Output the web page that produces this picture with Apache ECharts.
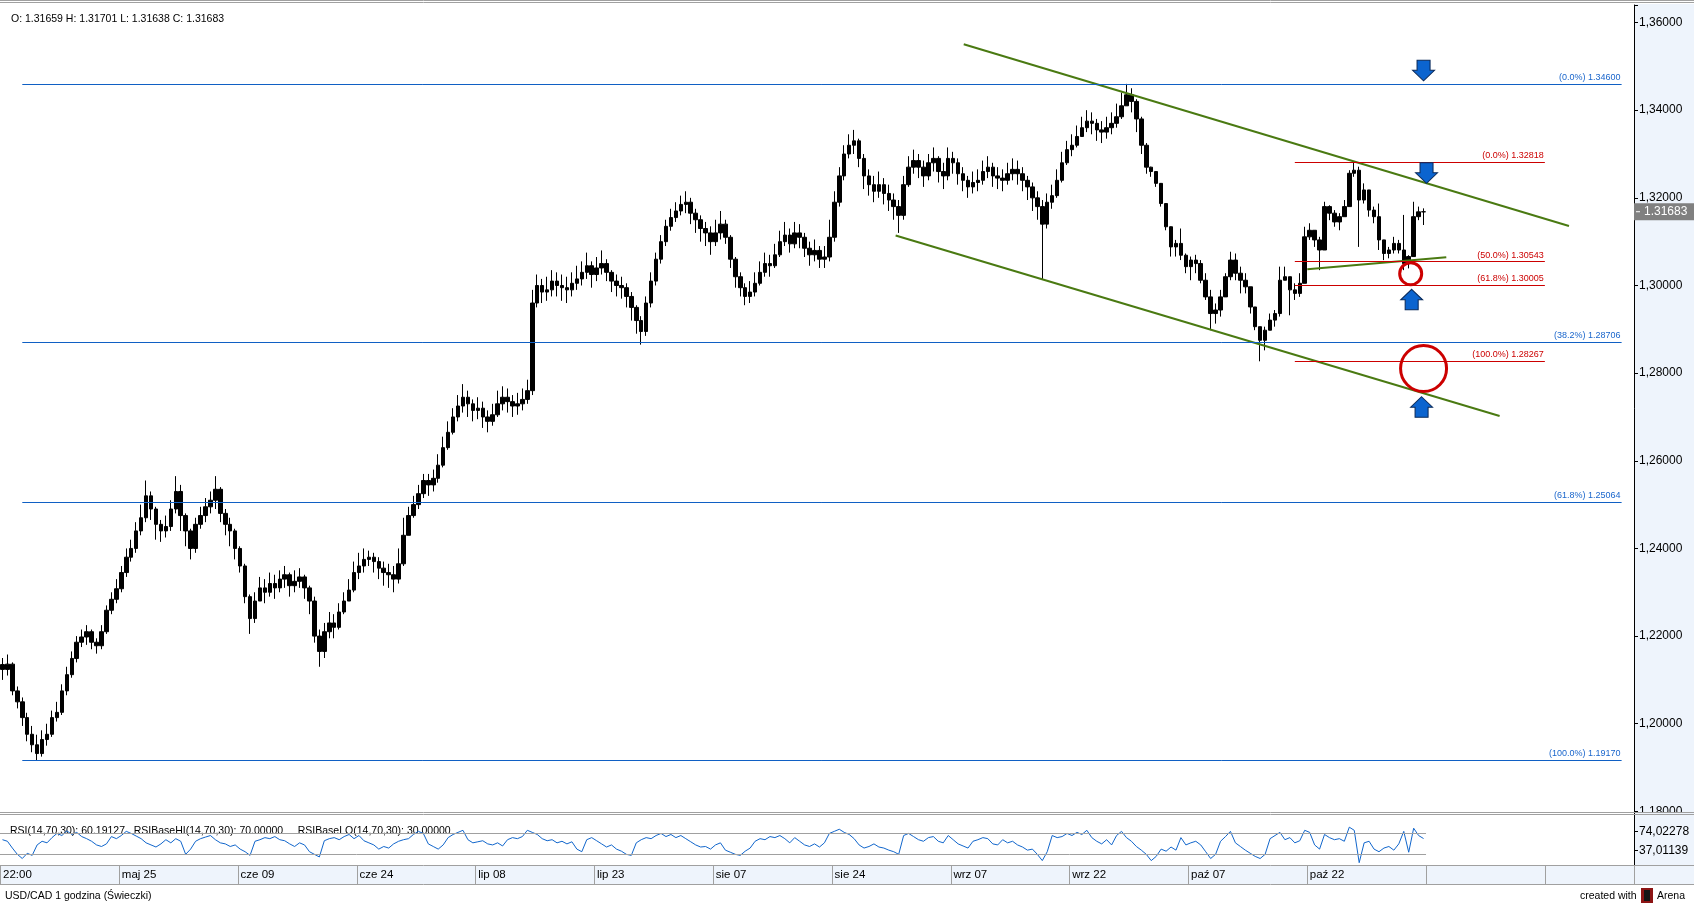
<!DOCTYPE html>
<html>
<head>
<meta charset="utf-8">
<script src="https://cdn.jsdelivr.net/npm/echarts@6/dist/echarts.min.js"></script>
<style>
html,body{margin:0;padding:0;background:#ffffff;}
#c{width:1694px;height:903px;}
</style>
</head>
<body>
<div id="c"></div>
<script>
// ---------------- DATA ----------------
const dateLabels = ['22:00','maj 25','cze 09','cze 24','lip 08','lip 23','sie 07','sie 24','wrz 07','wrz 22','paź 07','paź 22'];
const firstOpen = 1.2135;
const closes = [
1.2124,1.2136,1.2075,1.2050,1.2014,1.1976,1.1952,1.1932,1.1964,1.1976,1.2014,1.2026,1.2075,1.2112,1.2149,1.2186,1.2198,1.2210,1.2186,1.2178,1.2210,1.2259,1.2284,1.2308,
1.2345,1.2380,1.2400,1.2440,1.2470,1.2520,1.2490,1.2455,1.2440,1.2450,1.2490,1.2530,1.2475,1.2440,1.2400,1.2455,1.2475,1.2495,1.2510,1.2535,1.2480,1.2455,1.2440,1.2400,
1.2360,1.2290,1.2240,1.2280,1.2310,1.2300,1.2320,1.2310,1.2330,1.2340,1.2315,1.2325,1.2335,1.2310,1.2280,1.2200,1.2165,1.2210,1.2230,1.2220,1.2255,1.2280,1.2305,1.2345,
1.2360,1.2375,1.2380,1.2370,1.2355,1.2345,1.2340,1.2330,1.2365,1.2430,1.2475,1.2500,1.2525,1.2555,1.2545,1.2560,1.2590,1.2630,1.2665,1.2700,1.2725,1.2745,1.2730,1.2715,
1.2720,1.2700,1.2690,1.2705,1.2730,1.2745,1.2735,1.2725,1.2730,1.2740,1.2760,1.2960,1.3000,1.2985,1.2990,1.3010,1.3000,1.2995,1.2990,1.3005,1.3015,1.3030,1.3045,1.3025,
1.3040,1.3050,1.3030,1.3010,1.3000,1.2995,1.2975,1.2950,1.2920,1.2895,1.2960,1.3010,1.3060,1.3100,1.3135,1.3155,1.3170,1.3185,1.3190,1.3165,1.3150,1.3130,1.3120,1.3100,
1.3120,1.3140,1.3110,1.3060,1.3020,1.2995,1.2975,1.2985,1.3005,1.3030,1.3050,1.3045,1.3070,1.3100,1.3115,1.3095,1.3120,1.3110,1.3085,1.3070,1.3080,1.3060,1.3065,1.3110,
1.3190,1.3250,1.3300,1.3320,1.3330,1.3290,1.3250,1.3230,1.3215,1.3230,1.3210,1.3195,1.3180,1.3160,1.3230,1.3270,1.3285,1.3270,1.3250,1.3280,1.3290,1.3260,1.3250,1.3290,
1.3280,1.3255,1.3240,1.3225,1.3235,1.3240,1.3260,1.3270,1.3250,1.3245,1.3240,1.3255,1.3265,1.3255,1.3240,1.3225,1.3200,1.3180,1.3140,1.3190,1.3205,1.3240,1.3280,1.3310,
1.3320,1.3340,1.3360,1.3375,1.3370,1.3355,1.3350,1.3360,1.3370,1.3385,1.3410,1.3435,1.3420,1.3380,1.3320,1.3270,1.3260,1.3233,1.3187,1.3134,1.3088,1.3096,1.3069,1.3043,
1.3058,1.3050,1.3012,1.2974,1.2936,1.2944,1.2974,1.3020,1.3058,1.3028,1.3012,1.2997,1.2951,1.2906,1.2875,1.2898,1.2921,1.2936,1.3012,1.3020,1.2990,1.2982,1.3005,1.3111,
1.3126,1.3104,1.3081,1.3180,1.3165,1.3145,1.3157,1.3180,1.3256,1.3263,1.3195,1.3218,1.3172,1.3157,1.3104,1.3073,1.3081,1.3096,1.3081,1.3050,1.3066,1.3157,1.3168,1.31683
];
const highs = [
1.2150,1.2158,1.2140,1.2085,1.2060,1.2025,1.1995,1.1975,1.1985,1.2000,1.2030,1.2050,1.2090,1.2130,1.2165,1.2200,1.2215,1.2225,1.2215,1.2195,1.2225,1.2270,1.2300,1.2330,
1.2360,1.2400,1.2420,1.2460,1.2500,1.2555,1.2530,1.2495,1.2465,1.2475,1.2510,1.2565,1.2545,1.2480,1.2445,1.2470,1.2495,1.2515,1.2530,1.2565,1.2540,1.2490,1.2470,1.2445,
1.2405,1.2365,1.2295,1.2300,1.2335,1.2330,1.2345,1.2340,1.2350,1.2360,1.2345,1.2350,1.2355,1.2340,1.2315,1.2290,1.2215,1.2230,1.2255,1.2250,1.2275,1.2300,1.2330,1.2370,
1.2390,1.2400,1.2395,1.2390,1.2380,1.2370,1.2365,1.2360,1.2400,1.2470,1.2495,1.2520,1.2545,1.2570,1.2570,1.2580,1.2615,1.2655,1.2690,1.2720,1.2750,1.2775,1.2760,1.2740,
1.2745,1.2735,1.2715,1.2730,1.2760,1.2770,1.2765,1.2750,1.2755,1.2765,1.2785,1.2990,1.3025,1.3015,1.3020,1.3035,1.3030,1.3025,1.3020,1.3030,1.3045,1.3055,1.3075,1.3055,
1.3065,1.3080,1.3060,1.3035,1.3025,1.3020,1.3005,1.2985,1.2955,1.2930,1.2975,1.3030,1.3075,1.3115,1.3150,1.3175,1.3190,1.3205,1.3215,1.3200,1.3175,1.3160,1.3145,1.3135,
1.3150,1.3170,1.3150,1.3115,1.3065,1.3030,1.3005,1.3010,1.3030,1.3055,1.3075,1.3070,1.3095,1.3125,1.3145,1.3130,1.3145,1.3140,1.3120,1.3100,1.3105,1.3090,1.3090,1.3150,
1.3215,1.3270,1.3320,1.3345,1.3355,1.3335,1.3300,1.3265,1.3250,1.3260,1.3245,1.3230,1.3210,1.3195,1.3250,1.3295,1.3310,1.3300,1.3285,1.3300,1.3315,1.3295,1.3280,1.3315,
1.3305,1.3290,1.3270,1.3250,1.3260,1.3265,1.3285,1.3295,1.3280,1.3270,1.3265,1.3280,1.3290,1.3285,1.3270,1.3250,1.3235,1.3215,1.3195,1.3210,1.3230,1.3265,1.3305,1.3330,
1.3345,1.3365,1.3385,1.3400,1.3395,1.3380,1.3375,1.3385,1.3395,1.3415,1.3440,1.3460,1.3450,1.3425,1.3385,1.3325,1.3271,1.3256,1.3218,1.3180,1.3126,1.3104,1.3130,1.3073,
1.3066,1.3070,1.3058,1.3028,1.2990,1.2959,1.2990,1.3028,1.3077,1.3073,1.3043,1.3028,1.2997,1.2951,1.2906,1.2906,1.2936,1.2944,1.3043,1.3043,1.3020,1.3005,1.3028,1.3134,
1.3142,1.3126,1.3111,1.3191,1.3183,1.3172,1.3165,1.3195,1.3263,1.3282,1.3271,1.3233,1.3210,1.3180,1.3187,1.3096,1.3088,1.3111,1.3104,1.3161,1.3069,1.3191,1.3180,1.3176
];
const lows = [
1.2100,1.2110,1.2065,1.2035,1.1995,1.1960,1.1935,1.1917,1.1925,1.1950,1.1970,1.2005,1.2020,1.2065,1.2105,1.2140,1.2175,1.2180,1.2170,1.2160,1.2170,1.2205,1.2250,1.2275,
1.2300,1.2335,1.2370,1.2390,1.2430,1.2460,1.2465,1.2420,1.2415,1.2425,1.2440,1.2480,1.2440,1.2405,1.2375,1.2390,1.2445,1.2460,1.2480,1.2490,1.2460,1.2430,1.2405,1.2375,
1.2345,1.2275,1.2205,1.2230,1.2280,1.2275,1.2290,1.2285,1.2300,1.2310,1.2290,1.2300,1.2310,1.2285,1.2250,1.2185,1.2130,1.2150,1.2195,1.2195,1.2215,1.2250,1.2280,1.2300,
1.2330,1.2345,1.2360,1.2345,1.2330,1.2315,1.2310,1.2300,1.2320,1.2360,1.2430,1.2470,1.2490,1.2515,1.2520,1.2530,1.2550,1.2585,1.2625,1.2660,1.2690,1.2710,1.2700,1.2690,
1.2695,1.2675,1.2665,1.2680,1.2700,1.2715,1.2710,1.2700,1.2705,1.2715,1.2730,1.2750,1.2950,1.2960,1.2965,1.2975,1.2975,1.2965,1.2960,1.2975,1.2990,1.3000,1.3015,1.2995,
1.3010,1.3025,1.3010,1.2985,1.2975,1.2970,1.2950,1.2920,1.2890,1.2865,1.2885,1.2950,1.3000,1.3050,1.3090,1.3125,1.3145,1.3160,1.3165,1.3140,1.3120,1.3100,1.3090,1.3070,
1.3090,1.3105,1.3095,1.3040,1.2995,1.2975,1.2955,1.2960,1.2975,1.3000,1.3020,1.3020,1.3040,1.3065,1.3090,1.3075,1.3085,1.3085,1.3065,1.3045,1.3055,1.3040,1.3040,1.3055,
1.3100,1.3180,1.3240,1.3290,1.3300,1.3270,1.3220,1.3205,1.3190,1.3200,1.3185,1.3170,1.3150,1.3120,1.3150,1.3225,1.3255,1.3245,1.3225,1.3240,1.3260,1.3235,1.3220,1.3240,
1.3255,1.3230,1.3215,1.3200,1.3210,1.3215,1.3230,1.3245,1.3225,1.3220,1.3215,1.3230,1.3240,1.3230,1.3215,1.3195,1.3170,1.3150,1.3015,1.3130,1.3175,1.3200,1.3235,1.3275,
1.3295,1.3315,1.3340,1.3350,1.3345,1.3330,1.3325,1.3335,1.3345,1.3360,1.3380,1.3410,1.3395,1.3350,1.3300,1.3255,1.3248,1.3225,1.3180,1.3126,1.3066,1.3066,1.3058,1.3028,
1.3012,1.3028,1.3005,1.2967,1.2898,1.2913,1.2929,1.2974,1.3012,1.3012,1.2982,1.2982,1.2936,1.2898,1.2827,1.2852,1.2898,1.2906,1.2929,1.3012,1.2932,1.2967,1.2974,1.3005,
1.3104,1.3088,1.3035,1.3081,1.3149,1.3134,1.3126,1.3157,1.3180,1.3248,1.3088,1.3187,1.3157,1.3142,1.3081,1.3058,1.3062,1.3073,1.3073,1.3035,1.3039,1.3066,1.3149,1.3138
];
const rsi = [
58,55,42,30,22,32,28,48,55,52,62,70,66,75,68,72,64,60,55,48,45,50,64,60,
66,74,70,65,60,52,48,44,50,58,52,60,55,30,40,55,60,63,66,58,52,50,45,48,
40,35,28,55,58,62,60,64,58,56,50,45,52,48,35,30,25,56,60,62,58,64,68,60,
66,56,52,48,40,45,42,50,55,58,60,68,74,70,50,45,40,48,62,68,72,76,58,52,
54,56,50,48,52,46,58,62,60,64,76,72,68,60,56,58,52,55,50,54,40,35,58,62,
56,50,44,48,40,36,30,28,52,58,62,60,66,70,64,68,62,66,60,54,48,44,45,40,
48,52,38,34,30,28,36,42,55,60,58,64,62,66,60,52,62,55,48,45,50,44,52,70,
74,78,72,68,60,48,42,45,50,44,42,38,35,30,66,70,64,58,55,62,64,55,52,66,
58,50,46,42,55,58,62,60,50,48,58,52,55,48,44,38,40,30,18,35,66,62,64,70,
66,72,68,76,62,55,50,58,48,66,74,62,55,45,38,30,18,26,40,36,44,38,62,48,
52,55,48,35,22,30,55,64,74,52,45,38,32,26,22,30,60,66,72,58,62,52,56,76,
72,48,40,68,62,58,60,55,82,76,14,52,55,40,35,42,45,38,50,74,34,80,66,60.19
];
const rsiLevels = [70, 30];
const lastCandle = {o:'1.31659', h:'1.31701', l:'1.31638', c:'1.31683'};
const blueFib = [
  {pct:'0.0%', price:1.34600},
  {pct:'38.2%', price:1.28706},
  {pct:'61.8%', price:1.25064},
  {pct:'100.0%', price:1.19170}
];
const blueFibSpan = [4, 327];
const redFib = [
  {pct:'0.0%', price:1.32818},
  {pct:'50.0%', price:1.30543},
  {pct:'61.8%', price:1.30005},
  {pct:'100.0%', price:1.28267}
];
const redFibSpan = [261, 311.5];
const trendLines = [
  [[194.13, 1.35503], [316.37, 1.31357]],
  [[180.38, 1.31140], [302.36, 1.27022]],
  [[263.52, 1.30369], [291.59, 1.30643]]
];
const arrowsDown = [[287.0, 1.34672], [287.6, 1.32331]];
const arrowsUp = [[284.6, 1.29913], [286.6, 1.27462]];
const circlesSmall = [[284.4, 1.30269]];
const circlesBig = [[287.0, 1.28106]];

// ---------------- CHART ----------------
const FONT = '"Liberation Sans", Arial, Helvetica, sans-serif';
const N = 330;
const BLUE = '#1060c4', BLUE_T = '#1a66cc', RED = '#cc0000', GREEN = '#4a7a12';
const PANEL = '#eef4fc', BORDER = '#a0a0a0';

const candleCats = Array.from({length:N}, (_, i) => String(i));
const bandCats = Array.from({length:N}, (_, i) => (i % 24 === 0 && i / 24 < dateLabels.length) ? dateLabels[i / 24] : '');
const ohlc = closes.map((c, i) => [i === 0 ? firstOpen : closes[i - 1], c, lows[i], highs[i]]);

function isMult(v, step) { const q = v / step; return Math.abs(q - Math.round(q)) < 1e-6; }
const fmtPrice = v => isMult(v, 0.02) && v < 1.362 ? v.toFixed(5).replace('.', ',') : '';
const fmtRsi = v => (v > 1 && v < 100) ? v.toFixed(5).replace('.', ',') : '';
const every24 = (i) => i % 24 === 0;

function fibMarkLine(list, span, lineColor, textColor) {
  return {
    symbol: ['none', 'none'], silent: true, animation: false,
    emphasis: {disabled: true},
    lineStyle: {color: lineColor, width: 1, type: 'solid'},
    label: {show: true, position: 'insideEndTop', formatter: '{b}', color: textColor, fontSize: 9, fontFamily: FONT, distance: [1, 2]},
    data: list.map(f => [
      {name: '(' + f.pct + ') ' + f.price.toFixed(5), coord: [span[0], f.price]},
      {coord: [span[1], f.price]}
    ])
  };
}
const downPath = 'path://M4.5,0 L17.5,0 L17.5,10 L22,10 L11,20.5 L0,10 L4.5,10 Z';
const upPath = 'path://M11,0 L22,10.5 L17.5,10.5 L17.5,20.5 L4.5,20.5 L4.5,10.5 L0,10.5 Z';
const arrowStyle = {color: '#0b64cf', borderColor: '#0a2a5a', borderWidth: 1};
const markPoints = [].concat(
  arrowsDown.map(p => ({coord: p, symbol: downPath, symbolSize: [22, 20.5], symbolOffset: [0, '-50%'], itemStyle: arrowStyle})),
  arrowsUp.map(p => ({coord: p, symbol: upPath, symbolSize: [22, 20.5], symbolOffset: [0, '50%'], itemStyle: arrowStyle})),
  circlesSmall.map(p => ({coord: p, symbol: 'circle', symbolSize: 22, itemStyle: {color: 'rgba(0,0,0,0)', borderColor: RED, borderWidth: 3}})),
  circlesBig.map(p => ({coord: p, symbol: 'circle', symbolSize: 46, itemStyle: {color: 'rgba(0,0,0,0)', borderColor: RED, borderWidth: 3}}))
);

function hLine(id, x1, x2, y, color, z) {
  return {id, type: 'line', z, silent: true, shape: {x1, y1: y, x2, y2: y}, style: {stroke: color, lineWidth: 1}};
}
function txt(id, x, y, text, size, color, z) {
  return {id, type: 'text', z, silent: true, x, y,
    style: {text, fill: color, font: size + 'px ' + FONT, align: 'left', verticalAlign: 'middle', textAlign: 'left', textVerticalAlign: 'middle'}};
}

const chart = echarts.init(document.getElementById('c'));
const option = {
  animation: false,
  backgroundColor: '#ffffff',
  textStyle: {fontFamily: FONT},
  grid: [
    {left: 0, top: 5, width: 1634, height: 806.4},
    {left: 0, top: 812, width: 1634, height: 58},
    {left: 0, top: 865, width: 1634, height: 19}
  ],
  xAxis: [
    {type: 'category', gridIndex: 0, data: candleCats, boundaryGap: true, show: false},
    {type: 'value', gridIndex: 0, min: -0.5, max: N - 0.5, show: false, axisLine: {onZero: false}},
    {type: 'value', gridIndex: 1, min: -0.5, max: N - 0.5, show: false, axisLine: {onZero: false}},
    {type: 'category', gridIndex: 2, data: bandCats, position: 'top', boundaryGap: true, z: 6,
      axisLine: {show: false, onZero: false}, axisTick: {show: false},
      splitLine: {show: true, interval: every24, lineStyle: {color: BORDER, width: 1}},
      axisLabel: {show: true, inside: true, interval: every24, align: 'left', margin: 4, fontSize: 11.5, color: '#000', fontFamily: FONT}}
  ],
  yAxis: [
    {type: 'value', gridIndex: 0, position: 'right', min: 1.18, max: 1.364, interval: 0.02, z: 0,
      axisLine: {show: true, onZero: false, lineStyle: {color: '#000', width: 1}},
      axisTick: {show: true, length: 4, lineStyle: {color: '#000'}},
      splitLine: {show: false},
      axisLabel: {margin: 5, fontSize: 12, color: '#000', fontFamily: FONT, formatter: fmtPrice}},
    {type: 'value', gridIndex: 1, position: 'right', min: 0, max: 111.03417, interval: 37.01139, z: 2,
      axisLine: {show: true, onZero: false, lineStyle: {color: '#000', width: 1}},
      axisTick: {show: true, length: 4, lineStyle: {color: '#000'}},
      splitLine: {show: false},
      axisLabel: {margin: 5, fontSize: 12, color: '#000', fontFamily: FONT, formatter: fmtRsi}},
    {type: 'value', gridIndex: 2, show: false, axisLine: {show: false, onZero: false}}
  ],
  series: [
    {type: 'candlestick', xAxisIndex: 0, yAxisIndex: 0, data: ohlc, barWidth: 4, silent: true, z: 2,
      itemStyle: {color: '#000', color0: '#000', borderColor: '#000', borderColor0: '#000', borderWidth: 1}},
    {type: 'line', xAxisIndex: 1, yAxisIndex: 0, data: trendLines[0], symbol: 'none', silent: true, z: 3,
      lineStyle: {color: GREEN, width: 2}, markLine: fibMarkLine(blueFib, blueFibSpan, BLUE, BLUE_T)},
    {type: 'line', xAxisIndex: 1, yAxisIndex: 0, data: trendLines[1], symbol: 'none', silent: true, z: 3,
      lineStyle: {color: GREEN, width: 2}, markLine: fibMarkLine(redFib, redFibSpan, RED, RED)},
    {type: 'line', xAxisIndex: 1, yAxisIndex: 0, data: trendLines[2], symbol: 'none', silent: true, z: 4,
      lineStyle: {color: GREEN, width: 2},
      markPoint: {silent: true, animation: false, label: {show: false}, emphasis: {disabled: true}, data: markPoints}},
    {type: 'line', xAxisIndex: 2, yAxisIndex: 1, data: rsi.map((v, i) => [i, v]), symbol: 'none', silent: true, z: 2,
      lineStyle: {color: '#1166cc', width: 1},
      markLine: {symbol: ['none', 'none'], silent: true, label: {show: false}, emphasis: {disabled: true},
        lineStyle: {color: BORDER, width: 1, type: 'solid'},
        data: rsiLevels.map(l => [{coord: [-0.5, l]}, {coord: [rsi.length - 0.5, l]}])}},
    {type: 'line', xAxisIndex: 3, yAxisIndex: 2, data: []}
  ],
  graphic: {elements: [
    {id: 'axisBg', type: 'rect', z: -10, silent: true, shape: {x: 1634, y: 4, width: 60, height: 861}, style: {fill: PANEL}},
    {id: 'cover', type: 'rect', z: 1, silent: true, shape: {x: 1635, y: 812, width: 59, height: 53}, style: {fill: PANEL}},
    {id: 'band', type: 'rect', z: 5, silent: true, shape: {x: 0, y: 865, width: 1694, height: 19}, style: {fill: PANEL}},
    hLine('bandTop', 0, 1694, 865.5, BORDER, 7),
    hLine('bandBot', 0, 1694, 884.5, BORDER, 7),
    hLine('top1', 0, 1694, 0.5, BORDER, 7),
    hLine('top2', 0, 1694, 2.5, BORDER, 7),
    hLine('div1', 0, 1694, 812.5, BORDER, 7),
    hLine('div2', 0, 1694, 814.5, BORDER, 7),
    txt('hdr', 11, 19, 'O: ' + lastCandle.o + ' H: ' + lastCandle.h + ' L: ' + lastCandle.l + ' C: ' + lastCandle.c, 10.5, '#000', 7),
    txt('rsiCap', 10, 831, 'RSI(14,70,30): 60.19127   RSIBaseHI(14,70,30): 70.00000     RSIBaseLO(14,70,30): 30.00000', 10.5, '#000', 1),
    txt('foot', 5, 896, 'USD/CAD 1 godzina (Świeczki)', 10.5, '#000', 7),
    txt('created', 1580, 896, 'created with', 10.5, '#000', 7),
    {id: 'icon', type: 'rect', z: 7, silent: true, shape: {x: 1641, y: 888, width: 12, height: 15}, style: {fill: '#8c1414'}},
    {id: 'icon2', type: 'rect', z: 8, silent: true, shape: {x: 1644, y: 890, width: 6, height: 11}, style: {fill: '#151515'}},
    txt('arena', 1657, 896, 'Arena', 10.5, '#000', 7)
  ]}
};
chart.setOption(option);

const lastClose = closes[closes.length - 1];
const py = chart.convertToPixel({yAxisIndex: 0}, lastClose);
chart.setOption({graphic: {elements: [
  {id: 'tagBox', type: 'rect', z: 8, silent: true, shape: {x: 1634, y: py - 8.5, width: 60, height: 17}, style: {fill: '#808080'}},
  {id: 'tagTick', type: 'line', z: 9, silent: true, shape: {x1: 1636, y1: py, x2: 1640, y2: py}, style: {stroke: '#ffffff', lineWidth: 1}},
  txt('tagTxt', 1644, py, lastClose.toFixed(5), 12, '#ffffff', 9)
]}});
</script>
</body>
</html>
